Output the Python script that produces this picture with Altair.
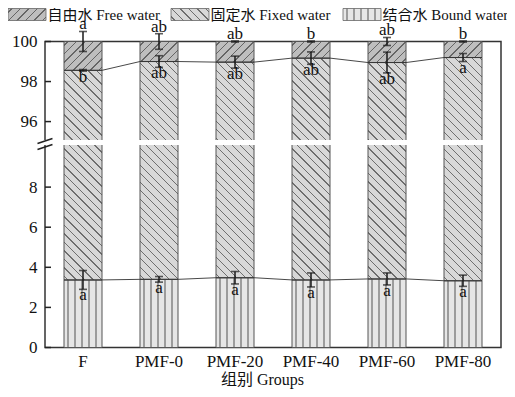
import math
import numpy as np
import altair as alt

# ---------------- data ----------------
groups = ["F", "PMF-0", "PMF-20", "PMF-40", "PMF-60", "PMF-80"]
bound = [3.37, 3.40, 3.48, 3.37, 3.42, 3.33]
fixed = [95.19, 95.60, 95.49, 95.80, 95.53, 95.87]
free = [1.44, 1.00, 1.03, 0.83, 1.05, 0.80]
bound_sd = [0.47, 0.14, 0.31, 0.35, 0.30, 0.28]
fixed_sd = [0.04, 0.29, 0.30, 0.31, 0.52, 0.20]
free_sd = [0.50, 0.39, 0.03, 0.03, 0.20, 0.03]
free_letters = ["a", "ab", "ab", "b", "ab", "b"]
fixed_letters = ["b", "ab", "ab", "ab", "ab", "a"]
bound_letters = ["a", "a", "a", "a", "a", "a"]
series_names = ["自由水 Free water", "固定水 Fixed water", "结合水 Bound water"]
y_ticks = [0, 2, 4, 6, 8, 96, 98, 100]
x_title = "组别 Groups"

# ---------------- layout / style ----------------
FONT = "Liberation Serif, Noto Sans CJK SC"
W, H = 456, 306
Y_DOMAIN = [0, 10.1, 95.08, 100]          # broken axis: lower 0-10, upper 95-100
Y_RANGE = [H, 103.5, 98.5, 0]
BAR_W = W / len(groups) * 0.5
SYM_W, SYM_H = 38.0, 12.0
LEG_X = [-37, 126, 298]                    # legend item left edges (px, plot coords)
LEG_Y = -27                                # legend row centre (px, plot coords)

STY = {
    "fwd": dict(fill="#bebebe", line="#656565", spacing=8.5, lw=0.9, phase=4.0),
    "back": dict(fill="#d8d8d8", line="#6e6e6e", spacing=8.5, lw=0.9, phase=4.0),
    "v": dict(fill="#e6e6e6", line="#9c9c9c", spacing=7.0, lw=1.3, phase=4.0),
}


def ypx(v):
    return float(np.interp(v, Y_DOMAIN, Y_RANGE))


def stripes(kind, w, h):
    s = STY[kind]
    if kind == "v":
        total = w
        x1, y1, x2, y2 = 0, 0, 1, 0
        half = s["lw"] / 2
    else:
        total = w + h
        k = (w + h) / (w * w + h * h)
        if kind == "back":
            x1, y1, x2, y2 = 0, 1, k * w, 1 - k * h
        else:
            x1, y1, x2, y2 = 0, 0, k * w, k * h
        half = s["lw"] * math.sqrt(2) / 2
    stops = [{"offset": 0, "color": s["fill"]}]
    c = s["phase"]
    while c - half < total:
        a = max(0.0, (c - half) / total)
        b = min(1.0, (c + half) / total)
        if b > 0 and a < 1:
            stops += [
                {"offset": a, "color": s["fill"]},
                {"offset": a, "color": s["line"]},
                {"offset": b, "color": s["line"]},
                {"offset": b, "color": s["fill"]},
            ]
        c += s["spacing"]
    stops.append({"offset": 1, "color": s["fill"]})
    return {"gradient": "linear", "x1": x1, "y1": y1, "x2": x2, "y2": y2, "stops": stops}


# ---------------- tables ----------------
bar_rows, stat_rows, line_rows = [], [], []
for i, g in enumerate(groups):
    top_fixed = bound[i] + fixed[i]
    top_free = top_fixed + free[i]
    for name, lo, hi, kind in [
        (series_names[2], 0, bound[i], "v"),
        (series_names[1], bound[i], top_fixed, "back"),
        (series_names[0], top_fixed, top_free, "fwd"),
    ]:
        hpx = ypx(lo) - ypx(hi)
        bar_rows.append({"group": g, "series": name, "lo": lo, "hi": hi,
                         "grad": stripes(kind, BAR_W, hpx)})
    for val, sd, letter, where in [
        (top_free, free_sd[i], free_letters[i], "above"),
        (top_fixed, fixed_sd[i], fixed_letters[i], "below"),
        (bound[i], bound_sd[i], bound_letters[i], "below"),
    ]:
        stat_rows.append({"group": g, "val": val, "lo": val - sd, "hi": val + sd,
                          "letter": letter, "where": where})
    for side in (-0.25, 0.25):
        line_rows.append({"pos": i + side, "v": top_fixed, "line": "upper"})
        line_rows.append({"pos": i + side, "v": bound[i], "line": "lower"})

leg_rows = []
for name, kind, lx in zip(series_names, ["fwd", "back", "v"], LEG_X):
    leg_rows.append({"name": name, "lx": lx, "lx2": lx + SYM_W, "tx": lx + SYM_W + 1.5,
                     "grad": stripes(kind, SYM_W, SYM_H)})

bar_data = alt.Data(values=bar_rows)
stat_data = alt.Data(values=stat_rows)
line_data = alt.Data(values=line_rows)
leg_data = alt.Data(values=leg_rows)
one = alt.Data(values=[{"a": Y_DOMAIN[2], "b": Y_DOMAIN[1]}])
tick_data = alt.Data(values=[{"t": v} for v in y_ticks])

# ---------------- encodings ----------------
yscale = alt.Scale(domain=Y_DOMAIN, range=Y_RANGE, nice=False, zero=False)
yaxis = alt.Axis(values=y_ticks, title=None, domain=False, ticks=False, tickSize=0,
                 labelPadding=8, labelFontSize=17, labelFont=FONT, labelColor="#111",
                 grid=False, zindex=0, labelOverlap=False)


def Y(field):
    return alt.Y(f"{field}:Q", scale=yscale, axis=yaxis)


xscale = alt.Scale(domain=groups, paddingInner=0.5, paddingOuter=0.25)
xaxis = alt.Axis(title=x_title, labelAngle=0, domain=False, ticks=False, tickSize=0,
                 labelPadding=6, labelFontSize=17, labelFont=FONT, labelColor="#111",
                 titleFontSize=16, titleFont=FONT, titleFontWeight="normal",
                 titleColor="#111", titleX=217, titleY=24, titleBaseline="top",
                 grid=False, zindex=0)


def X(axis=True):
    return alt.X("group:N", scale=xscale, axis=xaxis if axis else None)


bars = alt.Chart(bar_data).mark_bar(stroke="#555", strokeWidth=1).encode(
    x=X(), y=Y("lo"), y2="hi:Q", fill=alt.Fill("grad:N", scale=None)
)
strip = alt.Chart(one).mark_rect(fill="white").encode(
    x=alt.value(-12), x2=alt.value(W - 1), y=Y("a"), y2="b:Q"
)
ticks = alt.Chart(tick_data).mark_rule(color="#222", strokeWidth=1.5).encode(
    y=Y("t"), x=alt.value(0), x2=alt.value(6)
)
brk1 = alt.Chart(one).mark_rule(color="#222", strokeWidth=1.5).encode(
    x=alt.value(-7.5), x2=alt.value(7.5), y=alt.value(102), y2=alt.value(97)
)
brk2 = alt.Chart(one).mark_rule(color="#222", strokeWidth=1.5).encode(
    x=alt.value(-7.5), x2=alt.value(7.5), y=alt.value(108), y2=alt.value(103)
)
base_layer = alt.layer(bars, strip, ticks, brk1, brk2)

lines = alt.Chart(line_data).mark_line(color="#333", strokeWidth=0.9).encode(
    x=alt.X("pos:Q", scale=alt.Scale(domain=[-0.5, 5.5], nice=False, zero=False), axis=None),
    y=Y("v"),
    detail="line:N",
)

err = alt.Chart(stat_data).mark_rule(color="#1a1a1a", strokeWidth=1.5).encode(
    x=X(False), y=Y("lo"), y2="hi:Q"
)
cap_lo = alt.Chart(stat_data).mark_tick(color="#1a1a1a", thickness=1.6, size=8).encode(
    x=X(False), y=Y("lo")
)
cap_hi = alt.Chart(stat_data).mark_tick(color="#1a1a1a", thickness=1.6, size=8).encode(
    x=X(False), y=Y("hi")
)
txt_above = alt.Chart(stat_data).transform_filter(alt.datum.where == "above").mark_text(
    baseline="alphabetic", dy=-2, fontSize=17, font=FONT, color="#111"
).encode(x=X(False), y=Y("hi"), text="letter:N")
txt_below = alt.Chart(stat_data).transform_filter(alt.datum.where == "below").mark_text(
    baseline="alphabetic", dy=11, fontSize=17, font=FONT, color="#111"
).encode(x=X(False), y=Y("lo"), text="letter:N")
top_layer = alt.layer(err, cap_lo, cap_hi, txt_above, txt_below)

# custom legend (hatched swatches + labels)
leg_box = alt.Chart(leg_data).mark_rect(stroke="#666", strokeWidth=0.8).encode(
    x=alt.X("lx:Q", scale=None), x2="lx2:Q",
    y=alt.value(LEG_Y - SYM_H / 2), y2=alt.value(LEG_Y + SYM_H / 2),
    fill=alt.Fill("grad:N", scale=None),
)
leg_txt = alt.Chart(leg_data).mark_text(
    align="left", baseline="middle", fontSize=15, font=FONT, color="#111"
).encode(x=alt.X("tx:Q", scale=None), y=alt.value(LEG_Y + 0.5), text="name:N")
legend_layer = alt.layer(leg_box, leg_txt)

chart = alt.layer(base_layer, lines, top_layer, legend_layer).resolve_scale(
    x="independent"
).properties(
    width=W, height=H,
    autosize=alt.AutoSizeParams(type="none"),
    padding={"left": 37, "top": 33.5, "right": 6, "bottom": 42},
).configure_view(stroke="#333", strokeWidth=1.5)

chart.save("out.html", embed_options={"renderer": "svg", "actions": False})
